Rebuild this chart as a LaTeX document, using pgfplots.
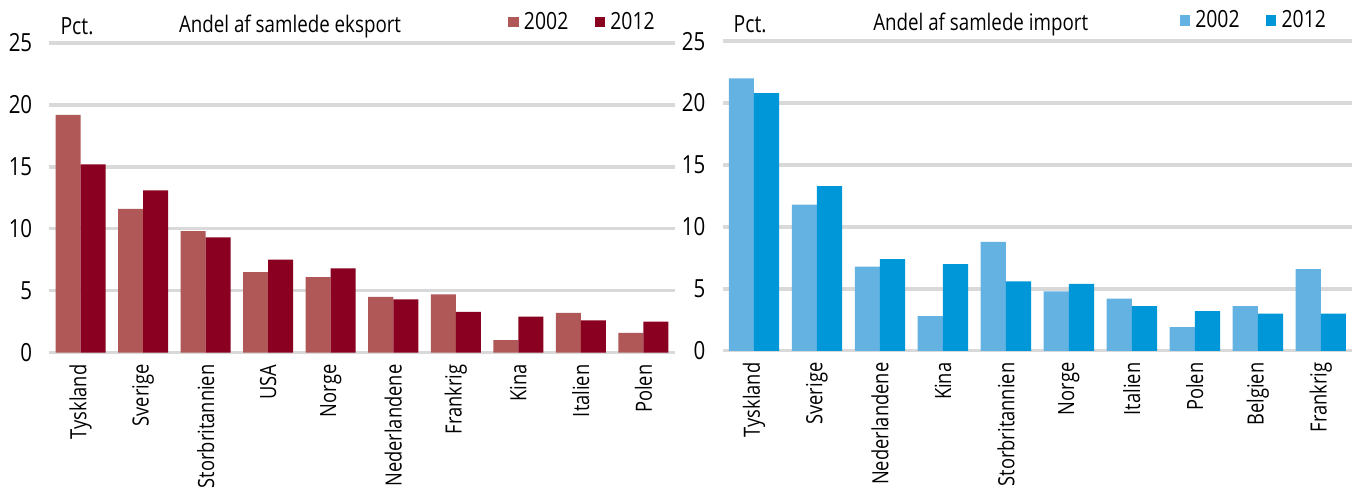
\documentclass[border=0pt]{standalone}
\usepackage{fontspec}
\setmainfont{Open Sans}[FakeStretch=0.82]
\usepackage{pgfplots}
\pgfplotsset{compat=1.18}
\definecolor{exA}{HTML}{B05858}
\definecolor{exB}{HTML}{8A0020}
\definecolor{imA}{HTML}{64B2E2}
\definecolor{imB}{HTML}{0097D8}
\definecolor{gridgray}{HTML}{D9D9D9}

\pgfplotsset{
  landpanel/.style={
    scale only axis, width=8.36cm, height=4.14cm,
    ybar=0pt, bar width=0.4,
    xmin=-0.5, xmax=9.5, ymin=0, ymax=25, ytick={0,5,...,25},
    xtick=data, axis line style={draw=none}, major tick length=0pt,
    ymajorgrids, grid style={gridgray, line width=1.3pt},
    x tick label style={rotate=90, anchor=east, font=\fontsize{8.5}{10}\selectfont},
    y tick label style={font=\fontsize{9.5}{10}\selectfont},
    /pgf/number format/assume math mode=true,
    xticklabel shift=1pt, yticklabel shift=3pt,
    legend columns=-1,
    legend style={draw=none, fill=none, at={(0.99,0.995)}, anchor=south east,
      font=\fontsize{9}{10}\selectfont, /tikz/every even column/.append style={column sep=8pt}},
    legend image code/.code={\fill[#1] (0cm,-0.06cm) rectangle (0.14cm,0.08cm);},
    clip=false,
  }
}

\begin{document}
\begin{tikzpicture}
\path (0,0) rectangle (18cm,6.48cm);

% eksport
\begin{axis}[landpanel, at={(0.53cm,1.805cm)}, anchor=south west,
  xticklabels={Tyskland,Sverige,Storbritannien,USA,Norge,Nederlandene,Frankrig,Kina,Italien,Polen}]
\addplot[fill=exA, draw=none] coordinates {
  (0,19.2) (1,11.6) (2,9.8) (3,6.5) (4,6.1) (5,4.5) (6,4.7) (7,1.0) (8,3.2) (9,1.6)};
\addplot[fill=exB, draw=none] coordinates {
  (0,15.2) (1,13.1) (2,9.3) (3,7.5) (4,6.8) (5,4.3) (6,3.3) (7,2.9) (8,2.6) (9,2.5)};
\legend{2002,2012}
\node[anchor=base west, font=\fontsize{9}{10}\selectfont] at ([yshift=0.12cm]rel axis cs:0.003,1) {Pct.};
\node[anchor=base, font=\fontsize{8.7}{10}\selectfont] at ([yshift=0.14cm]rel axis cs:0.385,1) {Andel af samlede eksport};
\end{axis}

% import
\begin{axis}[landpanel, at={(9.53cm,1.83cm)}, anchor=south west, width=8.42cm,
  legend style={at={(0.98,0.995)}},
  xticklabels={Tyskland,Sverige,Nederlandene,Kina,Storbritannien,Norge,Italien,Polen,Belgien,Frankrig}]
\addplot[fill=imA, draw=none] coordinates {
  (0,22.0) (1,11.8) (2,6.8) (3,2.8) (4,8.8) (5,4.8) (6,4.2) (7,1.9) (8,3.6) (9,6.6)};
\addplot[fill=imB, draw=none] coordinates {
  (0,20.8) (1,13.3) (2,7.4) (3,7.0) (4,5.6) (5,5.4) (6,3.6) (7,3.2) (8,3.0) (9,3.0)};
\legend{2002,2012}
\node[anchor=base west, font=\fontsize{9}{10}\selectfont] at ([yshift=0.12cm]rel axis cs:0.003,1) {Pct.};
\node[anchor=base, font=\fontsize{8.7}{10}\selectfont] at ([yshift=0.14cm]rel axis cs:0.41,1) {Andel af samlede import};
\end{axis}
\end{tikzpicture}
\end{document}
